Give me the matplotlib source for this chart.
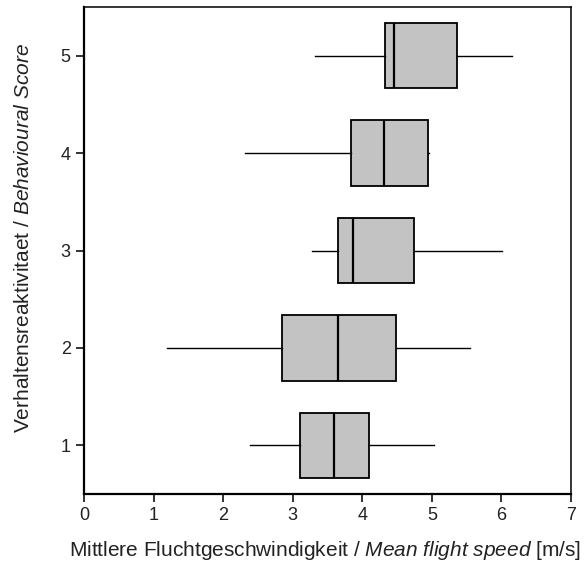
import matplotlib
matplotlib.use("Agg")
import matplotlib.pyplot as plt

plt.rcParams['font.family'] = ['Liberation Sans', 'DejaVu Sans']
plt.rcParams['mathtext.fontset'] = 'custom'
plt.rcParams['mathtext.rm'] = 'Liberation Sans'
plt.rcParams['mathtext.it'] = 'Liberation Sans:italic'

# Behavioural score categories and five-number summaries of flight speed (m/s)
scores = [1, 2, 3, 4, 5]
whisker_low = [2.39, 1.20, 3.28, 2.31, 3.32]
q1 = [3.11, 2.84, 3.65, 3.84, 4.32]
median = [3.60, 3.65, 3.87, 4.31, 4.45]
q3 = [4.09, 4.48, 4.74, 4.94, 5.36]
whisker_high = [5.03, 5.55, 6.01, 4.96, 6.15]

stats = []
for i in range(len(scores)):
    stats.append({
        'whislo': whisker_low[i], 'q1': q1[i], 'med': median[i],
        'q3': q3[i], 'whishi': whisker_high[i], 'fliers': [],
    })

fig = plt.figure(figsize=(5.86, 5.69), dpi=100)
ax = fig.add_axes([0.1433, 0.1318, 0.8311, 0.8559])

ax.bxp(stats, positions=scores, widths=0.67, vert=False, patch_artist=True,
       showcaps=False,
       boxprops=dict(facecolor='#c3c3c3', edgecolor='black', linewidth=1.3),
       medianprops=dict(color='black', linewidth=1.6),
       whiskerprops=dict(color='black', linewidth=1.0))

ax.set_xlim(0, 7)
ax.set_ylim(0.5, 5.5)
ax.set_xticks(range(0, 8))
ax.set_yticks(scores)
ax.set_yticklabels([str(s) for s in scores])
ax.tick_params(axis='both', direction='out', length=6, width=1.3,
               labelsize=13, colors='#222222')
for side in ['left', 'bottom']:
    ax.spines[side].set_linewidth(1.6)
for side in ['top', 'right']:
    ax.spines[side].set_linewidth(1.1)

ax.set_xlabel(r"Mittlere Fluchtgeschwindigkeit / $\mathit{Mean\ flight\ speed}$ [m/s]",
              fontsize=15, color='#222222')
ax.set_ylabel(r"Verhaltensreaktivitaet / $\mathit{Behavioural\ Score}$",
              fontsize=15, color='#222222')
ax.xaxis.set_label_coords(0.495, -0.092)
ax.yaxis.set_label_coords(-0.105, 0.525)

plt.savefig('out.png', dpi=100)
